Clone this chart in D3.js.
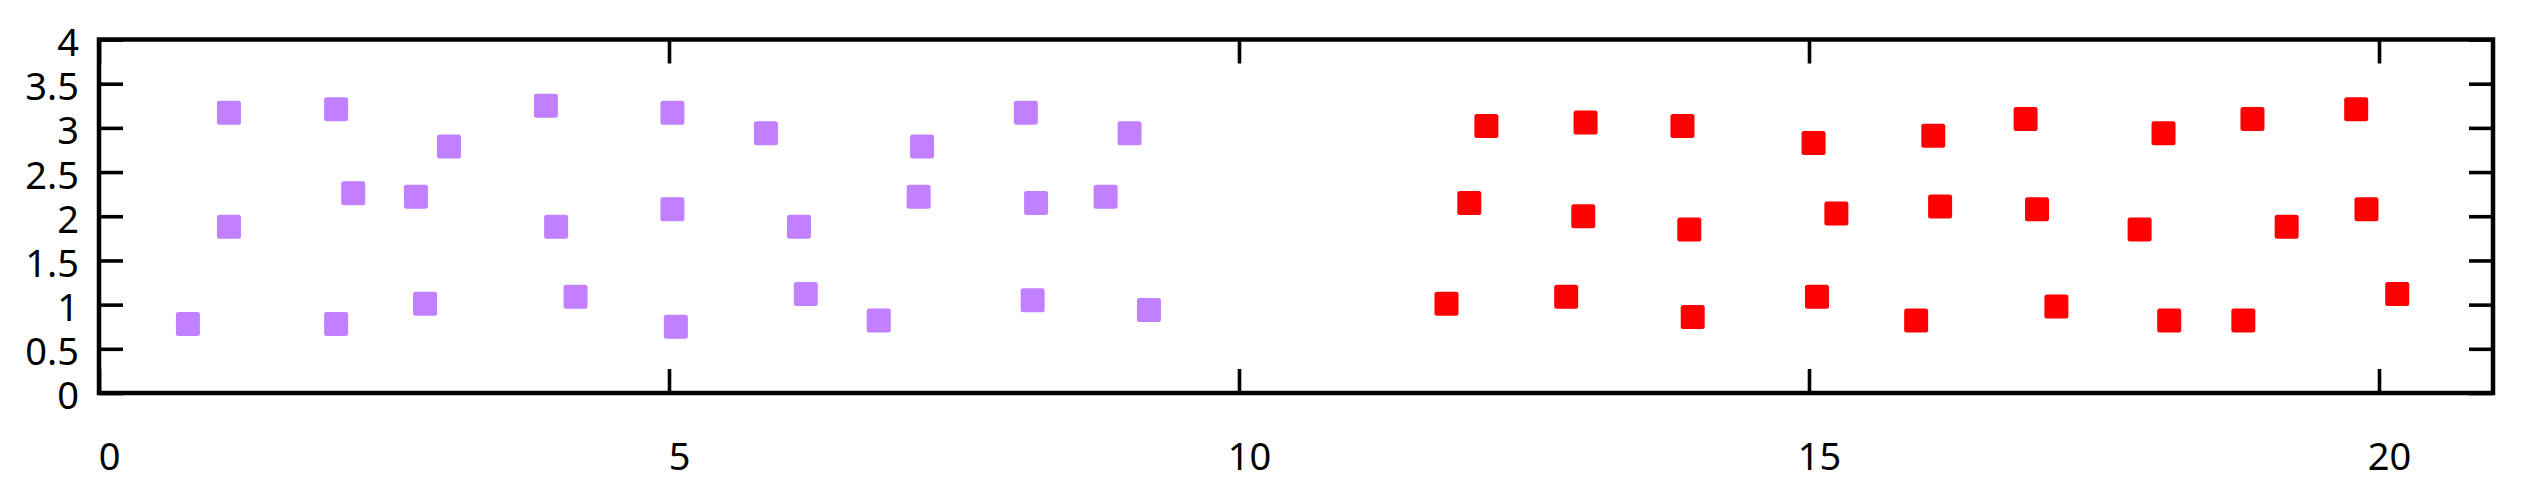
<!DOCTYPE html>
<html>
<head>
<meta charset="utf-8">
<script src="https://cdn.jsdelivr.net/npm/d3@7"></script>
<style>
  html, body { margin: 0; padding: 0; background: #fff; }
  svg { display: block; }
  .axis text { font-family: "Noto Sans", "Open Sans", sans-serif; font-size: 38px; fill: #000; }
</style>
</head>
<body>
<svg id="chart" width="2524" height="501"></svg>
<script>
// ---- data ----
const purpleX = [0.78, 1.14, 1.14, 2.08, 2.08, 2.23, 2.78, 2.86, 3.07, 3.92, 4.01, 4.18, 5.03, 5.03, 5.06,
                 5.85, 6.14, 6.20, 6.84, 7.22, 7.19, 8.13, 8.22, 8.19, 8.83, 9.04, 9.21];
const purpleY = [0.78, 3.17, 1.88, 3.21, 0.78, 2.26, 2.22, 1.01, 2.79, 3.25, 1.88, 1.09, 3.17, 2.08, 0.75,
                 2.94, 1.88, 1.12, 0.82, 2.79, 2.22, 3.17, 2.15, 1.05, 2.22, 2.94, 0.94];
const redX = [11.82, 12.02, 12.17, 12.87, 13.02, 13.04, 13.89, 13.95, 13.98, 15.04, 15.07, 15.24, 15.94, 16.09, 16.15,
              16.90, 17.00, 17.17, 17.90, 18.11, 18.16, 18.81, 18.89, 19.19, 19.80, 19.89, 20.16];
const redY = [1.01, 2.15, 3.02, 1.09, 2.00, 3.06, 3.02, 1.85, 0.86, 2.83, 1.09, 2.03, 0.82, 2.91, 2.11,
              3.10, 2.08, 0.98, 1.85, 2.94, 0.82, 0.82, 3.10, 1.88, 3.21, 2.08, 1.12];
const xTicks = [0, 5, 10, 15, 20];
const yTicks = [0, 0.5, 1, 1.5, 2, 2.5, 3, 3.5, 4];
const xDomain = [0, 21];
const yDomain = [0, 4];

// ---- layout ----
const mLeft = 99, mRight = 2493, mTop = 39.5, mBottom = 393;
const svg = d3.select("#chart");
const x = d3.scaleLinear().domain(xDomain).range([mLeft, mRight]);
const y = d3.scaleLinear().domain(yDomain).range([mBottom, mTop]);
const tickLen = 24;

function styleAxis(g, showText) {
  g.select(".domain").remove();
  g.selectAll(".tick line").attr("stroke", "#000").attr("stroke-width", 3.6);
  if (!showText) g.selectAll(".tick text").remove();
}

// bottom axis
svg.append("g").attr("class", "axis").attr("transform", `translate(0,${mBottom})`)
  .call(d3.axisBottom(x).tickValues(xTicks).tickSize(-tickLen).tickPadding(50).tickFormat(d3.format("d")))
  .call(g => styleAxis(g, true))
  .call(g => g.selectAll(".tick text").attr("dx", 10));
// top axis
svg.append("g").attr("class", "axis").attr("transform", `translate(0,${mTop})`)
  .call(d3.axisTop(x).tickValues(xTicks).tickSize(-tickLen))
  .call(g => styleAxis(g, false));
// left axis
svg.append("g").attr("class", "axis").attr("transform", `translate(${mLeft},0)`)
  .call(d3.axisLeft(y).tickValues(yTicks).tickSize(-tickLen).tickPadding(20).tickFormat(d => String(d)))
  .call(g => styleAxis(g, true))
  .call(g => g.selectAll(".tick text").attr("dy", "0.42em"));
// right axis
svg.append("g").attr("class", "axis").attr("transform", `translate(${mRight},0)`)
  .call(d3.axisRight(y).tickValues(yTicks).tickSize(-tickLen))
  .call(g => styleAxis(g, false));

// frame
svg.append("rect").attr("x", mLeft).attr("y", mTop)
  .attr("width", mRight - mLeft).attr("height", mBottom - mTop)
  .attr("fill", "none").attr("stroke", "#000").attr("stroke-width", 4.5);

// markers
const m = 24;
function drawSeries(xs, ys, color) {
  svg.append("g").selectAll("rect").data(xs.map((v, i) => [v, ys[i]])).join("rect")
    .attr("x", d => x(d[0]) - m / 2).attr("y", d => y(d[1]) - m / 2)
    .attr("width", m).attr("height", m).attr("rx", 2.5)
    .attr("fill", color);
}
drawSeries(purpleX, purpleY, "#c080ff");
drawSeries(redX, redY, "#ff0000");
</script>
</body>
</html>
